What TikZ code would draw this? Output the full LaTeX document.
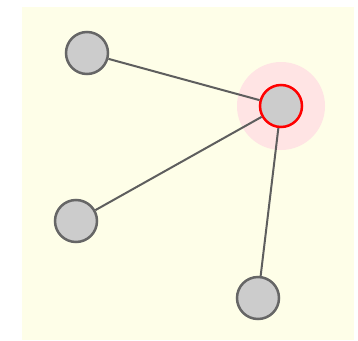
\documentclass[tikz,border=0pt]{standalone}
\usepackage{tikz}
\usetikzlibrary{positioning, backgrounds}
\definecolor{tikzBack}{HTML}{FEFEE8}
\definecolor{nodeFill}{HTML}{CCCCCC}
\definecolor{nodeLine}{HTML}{666666}
\definecolor{edgeLine}{HTML}{5E5E5E}
\definecolor{haloPink}{HTML}{FFE4E4}
\tikzstyle{vertex} =[circle, draw=nodeLine, fill=nodeFill, line width=2.5pt, minimum size=42pt, inner sep=0pt]
\tikzstyle{link} =[draw=edgeLine, line width=2pt]

\begin{document}
\begin{tikzpicture}[x=1pt, y=-1pt]
\useasboundingbox (0,0) rectangle (358,340);

\node (hub) [vertex, draw=red] at (281,106) {};
\node (topLeft) [vertex] at (87,53) {};
\node (midLeft) [vertex] at (76,221) {};
\node (bottom) [vertex] at (258,298) {};

\draw[link] (hub) -- (topLeft);
\draw[link] (hub) -- (midLeft);
\draw[link] (hub) -- (bottom);

\begin{scope}[on background layer]
\fill[tikzBack] (22,7) rectangle (354,340);
\node (halo) [circle, fill=haloPink, minimum size=88pt, inner sep=0pt] at (hub) {};
\end{scope}

\end{tikzpicture}
\end{document}
